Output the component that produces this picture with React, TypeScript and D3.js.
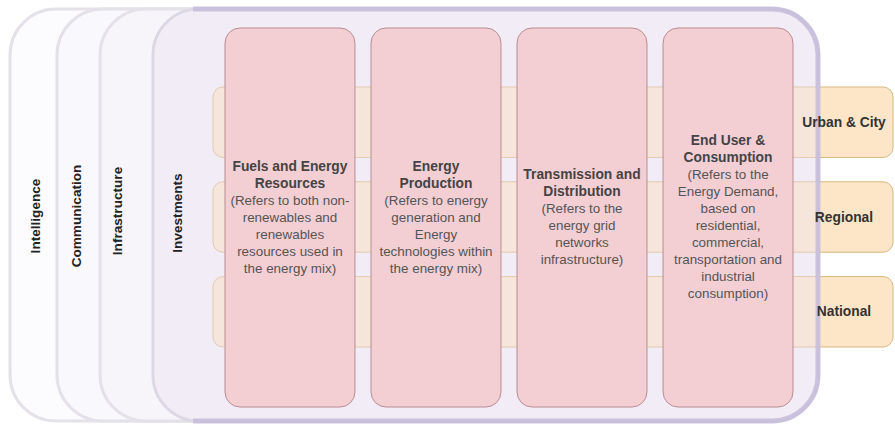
import React from "react";
import * as d3 from "d3";

// layers of the framework, outermost first
const layers = ["Intelligence", "Communication", "Infrastructure", "Investments"];

// value chain columns: bold title lines + description lines
const columns = ["fuels", "production", "transmission", "enduser"];
const columnTitles = [
  ["Fuels and Energy", "Resources"],
  ["Energy", "Production"],
  ["Transmission and", "Distribution"],
  ["End User &", "Consumption"],
];
const columnNotes = [
  ["(Refers to both non-", "renewables and", "renewables", "resources used in", "the energy mix)"],
  ["(Refers to energy", "generation and", "Energy", "technologies within", "the energy mix)"],
  ["(Refers to the", "energy grid", "networks", "infrastructure)"],
  ["(Refers to the", "Energy Demand,", "based on", "residential,", "commercial,", "transportation and", "industrial", "consumption)"],
];

// spatial scopes on the right
const scopes = ["Urban & City", "Regional", "National"];

const W = 895;
const H = 426;
const FONT = "'Liberation Sans', Arial, Helvetica, sans-serif";

// layout
const layerLeft = [10, 57, 100, 153];
const layerLabelX = [35, 76, 117, 177];
const layerLabelY = [216, 216, 211, 213];
const layerFill = ["#fcfbfd", "#f9f8fc", "#f7f5fa", "#f4f1f9"];
const panelRight = 818;
const panelTop = 9;
const panelBottom = 421;
const R = 46;

const App = () => {
  const x = d3.scaleBand().domain(columns).range([225, 793]).paddingInner(0.11);
  const y = d3.scaleBand().domain(scopes).range([87, 347]).paddingInner(0.257);
  const colTop = 28;
  const colBottom = 407;
  const midY = 217;
  const lh = 17;

  const panelPath = (left: number, r: number) => {
    const p = d3.path();
    p.moveTo(left + r, panelTop);
    p.lineTo(panelRight - r, panelTop);
    p.arcTo(panelRight, panelTop, panelRight, panelTop + r, r);
    p.lineTo(panelRight, panelBottom - r);
    p.arcTo(panelRight, panelBottom, panelRight - r, panelBottom, r);
    p.lineTo(left + r, panelBottom);
    p.arcTo(left, panelBottom, left, panelBottom - r, r);
    p.lineTo(left, panelTop + r);
    p.arcTo(left, panelTop, left + r, panelTop, r);
    p.closePath();
    return p.toString();
  };

  // open border: top, right side and bottom of the investments panel
  const borderPath = (left: number, r: number) => {
    const p = d3.path();
    p.moveTo(left + r - 6, panelTop);
    p.lineTo(panelRight - r, panelTop);
    p.arcTo(panelRight, panelTop, panelRight, panelTop + r, r);
    p.lineTo(panelRight, panelBottom - r);
    p.arcTo(panelRight, panelBottom, panelRight - r, panelBottom, r);
    p.lineTo(left + r - 6, panelBottom);
    return p.toString();
  };

  const inv = layers.length - 1;

  return (
    <svg width={W} height={H} style={{ position: "absolute", left: 0, top: 0, background: "#fff" }} fontFamily={FONT}>
      {/* layer panels */}
      {layers.map((name, i) => (
        <path
          key={name}
          d={panelPath(layerLeft[i], R)}
          fill={layerFill[i]}
          stroke="#e4e1e9"
          strokeWidth={3}
        />
      ))}

      {/* scope bands, running behind the columns */}
      {scopes.map((s) => (
        <rect
          key={s}
          x={213}
          y={y(s)}
          width={680}
          height={y.bandwidth()}
          rx={10}
          fill="#fde6c8"
          stroke="#d9b97f"
          strokeWidth={1}
        />
      ))}

      {/* translucent investments overlay with purple border */}
      <path d={panelPath(layerLeft[inv], R)} fill="#ebe4f4" fillOpacity={0.42} stroke="#dcd7e4" strokeWidth={2.5} />
      <path d={borderPath(layerLeft[inv], R)} fill="none" stroke="#c6bcd9" strokeWidth={5} strokeOpacity={0.85} />

      {/* value chain columns */}
      {columns.map((c, i) => {
        const lines = [...columnTitles[i].map((t) => ({ t, b: true })), ...columnNotes[i].map((t) => ({ t, b: false }))];
        const start = midY - ((lines.length - 1) * lh) / 2;
        const cx = (x(c) as number) + x.bandwidth() / 2;
        return (
          <g key={c}>
            <rect
              x={x(c)}
              y={colTop}
              width={x.bandwidth()}
              height={colBottom - colTop}
              rx={15}
              fill="#f3cfd4"
              stroke="#b98c91"
              strokeWidth={1}
            />
            {lines.map((l, j) => (
              <text
                key={j}
                x={cx}
                y={start + j * lh}
                textAnchor="middle"
                dominantBaseline="central"
                fontSize={l.b ? 13.8 : 13.4}
                fontWeight={l.b ? "bold" : "normal"}
                fill={l.b ? "#444" : "#555"}
              >
                {l.t}
              </text>
            ))}
          </g>
        );
      })}

      {/* scope labels */}
      {scopes.map((s) => (
        <text
          key={s}
          x={844}
          y={(y(s) as number) + y.bandwidth() / 2}
          textAnchor="middle"
          dominantBaseline="central"
          fontSize={13.8}
          fontWeight="bold"
          fill="#333"
        >
          {s}
        </text>
      ))}

      {/* layer labels */}
      {layers.map((name, i) => (
        <text
          key={name}
          transform={`translate(${layerLabelX[i]},${layerLabelY[i]}) rotate(-90)`}
          textAnchor="middle"
          dominantBaseline="central"
          fontSize={13.6}
          fontWeight="bold"
          fill="#222"
        >
          {name}
        </text>
      ))}
    </svg>
  );
};

export default App;
